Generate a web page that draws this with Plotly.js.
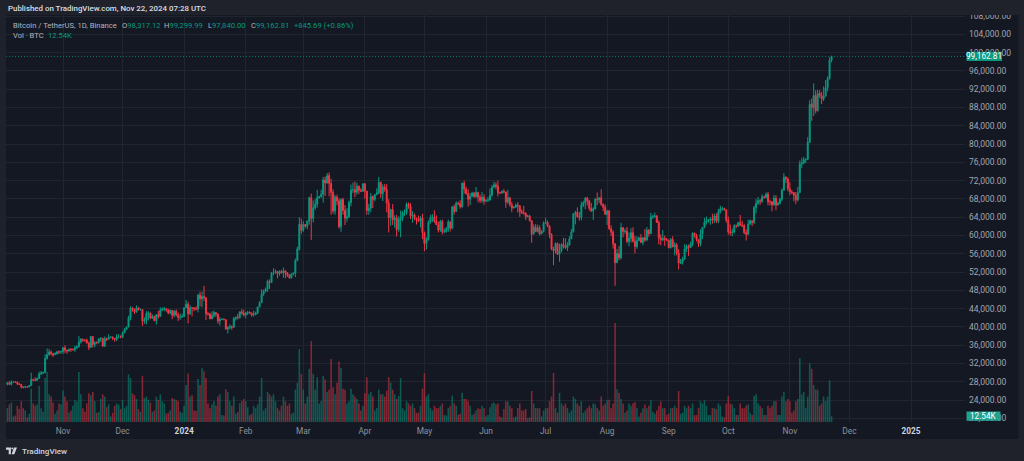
<!DOCTYPE html>
<html>
<head>
<meta charset="utf-8">
<script src="https://cdn.plot.ly/plotly-3.0.1.min.js"></script>
<style>
html,body{margin:0;padding:0;background:#1f222a;overflow:hidden}
#chart{width:1024px;height:461px}
</style>
</head>
<body>
<div id="chart"></div>
<script>
// ---- DATA: Binance BTC/USDT daily, 2023-10-04 .. 2024-11-22 ----
const firstDay = '2023-10-04';

const openP = [
27430,27780,27410,27930,27950,27920,27590,27390,26870,26750,26860,26850,27150,28500,28400,28320,28710,29680,29910,29990,33090,33920,34500,34150,33890,34090,34530,34480,
34640,35420,34940,34730,35080,35050,35050,35420,35620,36700,37310,37130,37060,36490,35550,37880,36160,36600,36570,37360,37450,35760,37420,37290,37720,37800,37450,37240,37830,37850,
37720,38690,39480,39970,41990,44080,43750,43290,44170,43710,43790,41240,41450,42890,43020,41940,42260,41360,42660,42270,43670,43860,43990,43740,43020,43610,42520,43440,42580,42070,42140,
42280,44180,44950,42850,44190,44160,43970,43930,46950,46110,46630,46340,42890,42840,41730,42510,43140,42780,41260,41620,41670,41550,39510,39850,40080,39930,41800,42120,42030,43300,42950,
42580,43080,43190,43010,42580,42660,43090,44340,45290,47130,47750,48290,49960,49700,51800,51940,52130,51640,52140,51780,52260,51840,51300,50730,51570,51730,54480,57040,62430,
61130,62390,62030,63170,68250,63720,66080,66830,68300,68490,69020,72130,71480,73080,71400,69400,65320,68390,67550,61910,67840,65500,63780,64060,67230,69960,69990,69460,70780,69890,69650,
71330,69700,65460,65960,68510,67840,68900,69360,71620,69140,70590,70060,67120,63920,65660,63420,63790,61280,63470,63820,64940,64940,66840,66410,64280,64500,63770,63460,63120,63840,
60640,58250,59120,62890,63890,64010,63170,62330,61190,63070,60790,60830,61470,62940,61580,66270,65230,67050,66940,66280,71450,70140,69120,67930,68530,69260,68510,69390,68370,67640,68350,
67490,67710,67750,68800,70550,71080,70760,69340,69300,69650,69510,67320,68240,66760,66010,66190,66640,66490,65170,64960,64830,64100,64250,63180,60280,61810,60840,61680,60320,60890,
62680,62850,62030,60200,57060,56640,58230,55860,56710,58050,57720,57340,57900,59240,60800,64720,65040,64090,63970,66660,67140,68170,67550,65930,65370,65780,67900,67810,68250,66780,66190,
64620,65350,61500,60700,58160,54020,56030,55130,61710,60880,60950,58710,59350,60610,58740,57560,58870,59480,58440,59490,59010,61160,60380,64090,64180,64260,62840,59420,59030,59370,59120,
58970,57300,59130,57490,57970,56160,53960,54160,54870,57050,57650,57340,58130,60500,60000,59130,58210,60310,61760,62950,63200,63350,63580,63340,64260,63150,65180,65770,65860,65600,
63300,60800,60650,60750,62080,62060,62820,62220,62130,60580,60270,62450,63190,62850,66080,67040,67610,67400,68420,68380,69030,67380,67360,66690,68160,66640,67010,67930,69910,72720,72340,
70220,69500,69370,68780,67800,69360,75640,75900,76550,76680,80370,88700,87960,90610,87250,91070,90590,89850,90460,92310,94290,98317.12
];

const highP = [
27830,28120,28290,28020,28110,27990,27730,27480,26940,27130,26990,27290,30000,28610,28980,28930,30200,30350,30200,34000,35280,35130,34820,34250,34480,34770,34860,34720,
35580,35980,34950,35260,35380,35290,35900,35980,37970,37520,37410,37230,37430,36760,37980,37930,36850,36840,37540,37750,37650,37890,37650,38420,37890,37840,37560,38380,38430,38150,
38990,39710,40000,42420,44490,44300,44050,44700,44370,44040,43800,42100,43430,43420,43090,42700,42440,42750,43500,44280,44240,44400,43990,43950,43800,43620,43690,43800,43130,42900,42890,
44180,45880,45500,44730,44340,44230,44500,47250,47700,47700,48970,46500,43260,43080,43400,43580,43200,42930,42200,41880,41870,41650,40130,40560,40290,42200,42220,42840,43310,43880,43750,
43290,43490,43380,43120,43540,43350,44370,45610,48200,48170,48590,50330,50370,52040,52820,52570,52190,52360,52480,52980,52370,52000,51540,51680,51950,54940,57550,64000,63680,
63110,62430,63230,68500,69170,67640,67980,69990,68670,69990,72800,72880,73650,73780,72360,70050,68850,68930,68110,68100,68240,66650,65970,67620,71150,71560,71770,71550,70900,70350,71370,
71340,69710,66910,69290,68720,69000,70330,72800,71760,71170,71280,71230,67930,65840,66870,64370,64470,64130,65450,65410,65700,67230,67210,67080,65300,64800,63920,64360,64230,64730,
60850,59600,63320,64500,64650,65500,64390,62990,63420,63470,61490,61850,63450,63100,66450,66740,67450,67400,67700,71520,71980,70640,70100,69270,69580,69520,70600,69560,68910,69500,69020,
67860,68410,70290,71060,71760,71620,71990,69560,69850,70150,69560,69990,68450,67310,66400,66980,67280,66560,65730,66480,65070,64530,64520,63370,62430,62480,62370,62200,61130,63060,
63860,63290,62280,60500,57500,58480,58470,58240,58300,59470,59360,58530,59850,61420,64900,65390,66130,65120,67390,67600,68380,68480,67800,67100,66170,68200,69400,68320,70080,66990,66810,
65600,65600,62200,61100,58300,57050,57730,62750,61800,61480,61850,60680,61580,61800,59850,59800,59700,60280,59620,61400,61830,61420,64950,64520,65000,64480,63260,60230,61190,59950,59460,
59070,59430,59810,58520,58330,56990,54850,55320,58090,58040,57990,58600,60670,60650,60390,59210,61320,61790,63850,64130,63560,64000,64750,64800,64820,65840,66500,66260,66080,65620,
64130,62390,61470,62480,62370,62970,64480,63200,62540,61320,63420,63480,63280,66500,67950,68420,67940,68970,68690,69400,69500,67830,67460,68850,68800,67450,68250,70270,73620,72960,72700,
71630,69940,69440,69500,70580,76400,76960,77200,76800,81500,89600,89940,93270,91760,91850,91800,91450,92600,94000,94830,98960,99299.99
];

const lowP = [
27220,27370,27170,27850,27730,27270,27300,26540,26560,26700,26810,26810,27110,28100,28140,28180,28600,29480,29660,29880,32860,33690,33740,33390,33870,33930,34080,34080,
34100,34300,34100,34580,34530,34750,34520,35110,35550,36340,36710,36760,36340,34950,35360,35500,35510,36210,36320,36760,35740,35630,36870,37250,37600,37150,36750,36870,37500,37500,
37620,38650,39280,39900,41420,43340,42820,43080,43580,43580,40220,40680,40550,41420,41660,41720,41250,40500,41800,42220,43400,43420,43310,42760,42760,41680,42100,42320,41300,41520,41970,
42180,44150,40750,42630,42300,43420,43580,43180,44500,44300,45600,41500,42440,41720,41720,42050,42200,40680,40280,41500,41500,39430,38560,39480,39350,39820,41400,41620,41800,42680,42280,
41880,42580,42890,42220,42260,42580,42790,44330,45240,46800,47530,47710,48300,49700,51310,51580,50620,51160,51680,50750,50630,50930,50540,50590,51280,50900,54450,56690,60360,
60780,61660,61330,62380,59000,62850,65560,66080,68000,68250,67190,68620,71340,68560,64530,64780,64550,66590,61500,60780,64530,62260,63000,63800,66390,69280,68370,68900,69070,69580,69560,
68060,64500,64490,65060,66000,67450,68860,69040,68210,67520,69570,65090,60660,62130,62300,61710,59770,60810,59600,63110,64280,64500,65860,63600,62790,63310,62390,62950,61770,59190,
56550,56940,58850,62580,62950,62700,62280,60630,60770,60190,60490,60630,60750,60870,61330,64600,65120,66600,65860,66060,69160,68900,66300,66600,68500,68220,68230,67250,67080,67130,66670,
67390,67260,67610,68480,70390,70130,68510,69130,69130,69230,66050,66900,66300,65080,65880,66050,65000,64060,64690,64530,63380,63940,63180,58400,60240,60710,60630,60000,60270,60630,
62500,61750,59400,56770,53490,56020,55730,54260,56290,57160,57050,56590,57760,59220,60640,62430,63880,63240,63310,66220,65750,66570,65440,65110,63400,65750,66660,67070,66480,65300,64520,
62300,61200,59850,57120,49000,53970,54560,54730,59580,60300,58290,57650,58430,58430,56080,57100,58780,58420,57860,58610,58780,59720,60350,63590,63800,62800,58030,57860,58760,57720,58740,
57200,57130,57420,55610,55640,52550,53750,53630,54590,56380,55550,57330,57630,59560,58700,57490,57610,59170,61560,62350,62760,62360,62570,62700,62690,62670,64810,65420,65440,62820,
60160,59980,59830,60460,61640,61830,62130,61820,60300,58900,60050,62420,62050,62440,64800,66750,66670,67150,68050,68100,66570,66570,65260,66520,65520,66580,66830,67520,69730,71440,69690,
68820,69040,67460,66840,67450,69300,74760,75560,75820,76490,80220,85070,86130,86670,87120,90090,88720,89380,90370,91500,94100,97840
];

const closeP = [
27780,27410,27930,27950,27920,27590,27390,26870,26750,26860,26850,27150,28500,28400,28320,28710,29680,29910,29990,33090,33920,34500,34150,33890,34090,34530,34480,34640,
35420,34940,34730,35080,35050,35050,35420,35620,36700,37310,37130,37060,36490,35550,37880,36160,36600,36570,37360,37450,35760,37420,37290,37720,37800,37450,37240,37830,37850,37720,
38690,39480,39970,41990,44080,43750,43290,44170,43710,43790,41240,41450,42890,43020,41940,42260,41360,42660,42270,43670,43860,43990,43740,43020,43610,42520,43440,42580,42070,42140,42280,
44180,44950,42850,44190,44160,43970,43930,46950,46110,46630,46340,42890,42840,41730,42510,43140,42780,41260,41620,41670,41550,39510,39850,40080,39930,41800,42120,42030,43300,42950,42580,
43080,43190,43010,42580,42660,43090,44340,45290,47130,47750,48290,49960,49700,51800,51940,52130,51640,52140,51780,52260,51840,51300,50730,51570,51730,54480,57040,62430,61130,
62390,62030,63170,68250,63720,66080,66830,68300,68490,69020,72130,71480,73080,71400,69400,65320,68390,67550,61910,67840,65500,63780,64060,67230,69960,69990,69460,70780,69890,69650,71330,
69700,65460,65960,68510,67840,68900,69360,71620,69140,70590,70060,67120,63920,65660,63420,63790,61280,63470,63820,64940,64940,66840,66410,64280,64500,63770,63460,63120,63840,60640,
58250,59120,62890,63890,64010,63170,62330,61190,63070,60790,60830,61470,62940,61580,66270,65230,67050,66940,66280,71450,70140,69120,67930,68530,69260,68510,69390,68370,67640,68350,67490,
67710,67750,68800,70550,71080,70760,69340,69300,69650,69510,67320,68240,66760,66010,66190,66640,66490,65170,64960,64830,64100,64250,63180,60280,61810,60840,61680,60320,60890,62680,
62850,62030,60200,57060,56640,58230,55860,56710,58050,57720,57340,57900,59240,60800,64720,65040,64090,63970,66660,67140,68170,67550,65930,65370,65780,67900,67810,68250,66780,66190,64620,
65350,61500,60700,58160,54020,56030,55130,61710,60880,60950,58710,59350,60610,58740,57560,58870,59480,58440,59490,59010,61160,60380,64090,64180,64260,62840,59420,59030,59370,59120,58970,
57300,59130,57490,57970,56160,53960,54160,54870,57050,57650,57340,58130,60500,60000,59130,58210,60310,61760,62950,63200,63350,63580,63340,64260,63150,65180,65770,65860,65600,63300,
60800,60650,60750,62080,62060,62820,62220,62130,60580,60270,62450,63190,62850,66080,67040,67610,67400,68420,68380,69030,67380,67360,66690,68160,66640,67010,67930,69910,72720,72340,70220,
69500,69370,68780,67800,69360,75640,75900,76550,76680,80370,88700,87960,90610,87250,91070,90590,89850,90460,92310,94290,98317.12,99162.81
];

// Volume, thousands of BTC
const volK = [
30,38,42,12,14,35,28,45,30,25,10,18,72,40,35,38,78,30,22,95,108,60,55,42,18,25,40,38,
68,55,45,20,25,35,48,45,108,60,30,22,40,62,58,65,45,20,22,50,60,55,32,38,12,20,35,40,38,28,
48,30,35,103,95,62,58,50,28,22,100,52,55,48,42,22,25,55,48,60,45,40,18,20,25,52,50,48,45,22,20,
35,80,105,55,58,25,24,93,80,116,110,95,40,30,38,45,35,55,60,15,14,71,65,45,35,55,18,22,40,45,50,
45,32,15,18,35,30,38,55,95,25,30,65,60,55,60,45,30,25,35,55,45,35,40,18,20,70,85,158,104,
70,40,55,115,175,104,70,97,40,45,100,92,65,70,136,75,60,85,131,117,72,70,40,45,72,60,55,50,40,25,35,
62,97,60,65,55,25,30,70,60,60,55,68,97,85,70,60,50,56,95,30,25,45,40,35,40,30,20,20,35,72,
106,55,60,30,25,35,30,30,35,40,15,14,30,35,57,40,35,15,18,63,50,50,45,35,15,18,25,30,28,35,30,
12,15,32,40,42,38,40,12,10,28,45,45,35,30,10,12,30,40,25,25,28,8,10,67,40,30,30,30,12,25,
30,30,45,55,106,30,20,63,40,35,40,30,20,25,55,50,40,35,45,20,25,30,35,30,40,38,30,25,55,35,40,
47,48,30,40,214,71,63,50,40,20,25,40,35,40,43,30,12,20,30,38,30,35,47,22,18,25,35,45,30,30,15,
18,30,30,35,30,67,18,20,35,30,35,30,40,15,15,30,45,40,47,35,15,15,30,30,28,40,35,12,10,40,
56,40,38,30,15,15,40,30,30,35,38,20,15,56,60,40,35,30,15,15,35,30,35,45,45,15,15,55,65,45,50,
45,20,25,45,50,138,60,65,30,55,127,115,80,70,70,35,40,55,45,55,90,12.54
];

const tickDates = ['2023-11-01','2023-12-01','2024-01-01','2024-02-01','2024-03-01','2024-04-01','2024-05-01','2024-06-01','2024-07-01','2024-08-01','2024-09-01','2024-10-01','2024-11-01','2024-12-01','2025-01-01'];
const tickLabels = ['Nov','Dec','2024','Feb','Mar','Apr','May','Jun','Jul','Aug','Sep','Oct','Nov','Dec','2025'];

const symbolText = 'Bitcoin / TetherUS, 1D, Binance';
const publishedText = 'Published on TradingView.com, Nov 22, 2024 07:28 UTC';

// ---- checks ----
const N = closeP.length;
if (openP.length !== N || highP.length !== N || lowP.length !== N || volK.length !== N) {
  throw new Error('length mismatch ' + [openP.length, highP.length, lowP.length, closeP.length, volK.length].join(','));
}

// ---- derived ----
const dayMs = 86400000;
const t0 = Date.parse(firstDay + 'T00:00:00Z');
const dates = closeP.map((_, i) => new Date(t0 + i * dayMs).toISOString().slice(0, 10));
const GREEN = '#089981', RED = '#f23645';
const volColors = closeP.map((c, i) => c >= openP[i] ? 'rgba(8,153,129,0.5)' : 'rgba(242,54,69,0.5)');

const lastO = openP[N - 1], lastH = highP[N - 1], lastL = lowP[N - 1], lastC = closeP[N - 1];
const prevC = closeP[N - 2];
const lastV = volK[N - 1];
const fmt2 = v => v.toLocaleString('en-US', {minimumFractionDigits: 2, maximumFractionDigits: 2});
const chg = lastC - prevC;
const chgPct = chg / prevC * 100;

// ---- geometry helpers ----
const W = 1024, H = 461, ML = 6, MR = 59, MT = 15, MB = 39;
const PW = W - ML - MR, PH = H - MT - MB;
const px = x => (x - ML) / PW;
const py = y => 1 - (y - MT) / PH;

const FONT = 'Roboto, "Noto Sans", "DejaVu Sans", sans-serif';
const BG_OUT = '#1f222a', BG_IN = '#141823', GRID = '#21252f';
const HS = 7.6; // header font size

const volTrace = {
  type: 'bar', x: dates, y: volK, xaxis: 'x', yaxis: 'y',
  marker: {color: volColors, line: {width: 0}}, hoverinfo: 'skip'
};
const candleTrace = {
  type: 'candlestick', x: dates, open: openP, high: highP, low: lowP, close: closeP,
  xaxis: 'x', yaxis: 'y2', whiskerwidth: 0,
  increasing: {line: {color: GREEN, width: 1}, fillcolor: GREEN},
  decreasing: {line: {color: RED, width: 1}, fillcolor: RED},
  hoverinfo: 'skip'
};

const tickText = tickLabels.map(t => /^\d{4}$/.test(t) ? '<span style="color:#d1d4dc"><b>' + t + '</b></span>' : t);

const logoPath1 = `M ${px(6)},${py(447.6)} L ${px(10.9)},${py(447.6)} L ${px(10.9)},${py(454.2)} L ${px(8.7)},${py(454.2)} L ${px(8.7)},${py(449.7)} L ${px(6)},${py(449.7)} Z`;
const logoPath2 = `M ${px(14.0)},${py(447.6)} L ${px(17.0)},${py(447.6)} L ${px(14.3)},${py(454.2)} L ${px(11.6)},${py(454.2)} Z`;

const hdr = (x, y, text, color) => ({xref: 'paper', yref: 'paper', x: px(x), y: py(y), xanchor: 'left', yanchor: 'middle',
  showarrow: false, text: text, font: {size: HS, color: color, family: FONT}});

const layout = {
  width: W, height: H,
  paper_bgcolor: BG_OUT, plot_bgcolor: BG_IN,
  margin: {l: ML, r: MR, t: MT, b: MB, pad: 0},
  showlegend: false, hovermode: false, dragmode: false,
  font: {family: FONT, size: 8.5, color: '#a3a6af'},
  xaxis: {
    type: 'date', range: ['2023-10-03 07:12', '2025-01-28 04:34'],
    rangeslider: {visible: false},
    tickmode: 'array', tickvals: tickDates, ticktext: tickText,
    showgrid: true, gridcolor: GRID, gridwidth: 1, zeroline: false, showline: false,
    ticks: '', tickfont: {size: 8.3, color: '#8f929a', family: FONT}, ticklabelstandoff: 3,
    fixedrange: true
  },
  yaxis: {range: [0, 880], visible: false, fixedrange: true},
  yaxis2: {
    overlaying: 'y', side: 'right', range: [19191, 108222],
    tickmode: 'linear', tick0: 0, dtick: 4000, tickformat: ',.2f',
    showgrid: true, gridcolor: GRID, gridwidth: 1, zeroline: false, showline: false,
    ticks: '', tickfont: {size: 8.5, color: '#a3a6af', family: FONT}, ticklabelstandoff: 3,
    fixedrange: true
  },
  shapes: [
    // chart frame background
    {type: 'rect', layer: 'below', xref: 'paper', yref: 'paper', x0: px(6), x1: px(1018.5), y0: py(439), y1: py(15),
     fillcolor: BG_IN, line: {width: 0}},
    // header band (covers top of axis)
    {type: 'rect', layer: 'above', xref: 'paper', yref: 'paper', x0: px(0), x1: px(1024), y0: py(15), y1: py(0),
     fillcolor: BG_OUT, line: {width: 0}},
    // last price line
    {type: 'line', layer: 'above', xref: 'paper', x0: 0, x1: 1, yref: 'y2', y0: lastC, y1: lastC,
     line: {color: 'rgba(8,153,129,0.75)', width: 1, dash: '1px,2px'}},
    // last price label box
    {type: 'rect', layer: 'above', xref: 'paper', x0: px(966.5), x1: px(1002), yref: 'y2', ysizemode: 'pixel',
     yanchor: lastC, y0: -4.6, y1: 4.6, fillcolor: GREEN, line: {width: 0}},
    // last volume label box
    {type: 'rect', layer: 'above', xref: 'paper', x0: px(966.5), x1: px(1000.5), yref: 'y', ysizemode: 'pixel',
     yanchor: lastV, y0: -4.6, y1: 4.6, fillcolor: '#22a090', line: {width: 0}},
    // logo
    {type: 'path', layer: 'above', xref: 'paper', yref: 'paper', path: logoPath1, fillcolor: '#d1d4dc', line: {width: 0}},
    {type: 'circle', layer: 'above', xref: 'paper', yref: 'paper', x0: px(11.3), x1: px(13.2), y0: py(449.5), y1: py(447.6),
     fillcolor: '#d1d4dc', line: {width: 0}},
    {type: 'path', layer: 'above', xref: 'paper', yref: 'paper', path: logoPath2, fillcolor: '#d1d4dc', line: {width: 0}}
  ],
  annotations: [
    {xref: 'paper', yref: 'paper', x: px(6), y: py(9), xanchor: 'left', yanchor: 'middle', showarrow: false,
     text: publishedText, font: {size: 7.9, color: '#dcdde2', family: FONT, weight: 500}},
    hdr(11, 26, symbolText, '#b2b5be'),
    hdr(120, 26, 'O<span style="color:' + GREEN + '">' + fmt2(lastO) + '</span>', '#b2b5be'),
    hdr(162, 26, 'H<span style="color:' + GREEN + '">' + fmt2(lastH) + '</span>', '#b2b5be'),
    hdr(206, 26, 'L<span style="color:' + GREEN + '">' + fmt2(lastL) + '</span>', '#b2b5be'),
    hdr(249, 26, 'C<span style="color:' + GREEN + '">' + fmt2(lastC) + '</span>', '#b2b5be'),
    hdr(292, 26, (chg >= 0 ? '+' : '') + fmt2(chg) + ' (' + (chg >= 0 ? '+' : '') + chgPct.toFixed(2) + '%)', GREEN),
    hdr(11, 35.5, 'Vol · BTC', '#b2b5be'),
    hdr(46, 35.5, lastV.toFixed(2) + 'K', GREEN),
    // axis value labels
    {xref: 'paper', yref: 'y2', x: px(984.2), y: lastC, xanchor: 'center', yanchor: 'middle', showarrow: false,
     text: fmt2(lastC), font: {size: 8.2, color: '#ffffff', family: FONT}},
    {xref: 'paper', yref: 'y', x: px(983.5), y: lastV, xanchor: 'center', yanchor: 'middle', showarrow: false,
     text: lastV.toFixed(2) + 'K', font: {size: 8.2, color: '#ffffff', family: FONT}},
    // footer brand
    {xref: 'paper', yref: 'paper', x: px(20), y: py(451), xanchor: 'left', yanchor: 'middle', showarrow: false,
     text: 'TradingView', font: {size: 8.1, color: '#d1d4dc', family: FONT, weight: 500}}
  ]
};

Plotly.newPlot('chart', [volTrace, candleTrace], layout, {staticPlot: true, displayModeBar: false});
</script>
</body>
</html>
